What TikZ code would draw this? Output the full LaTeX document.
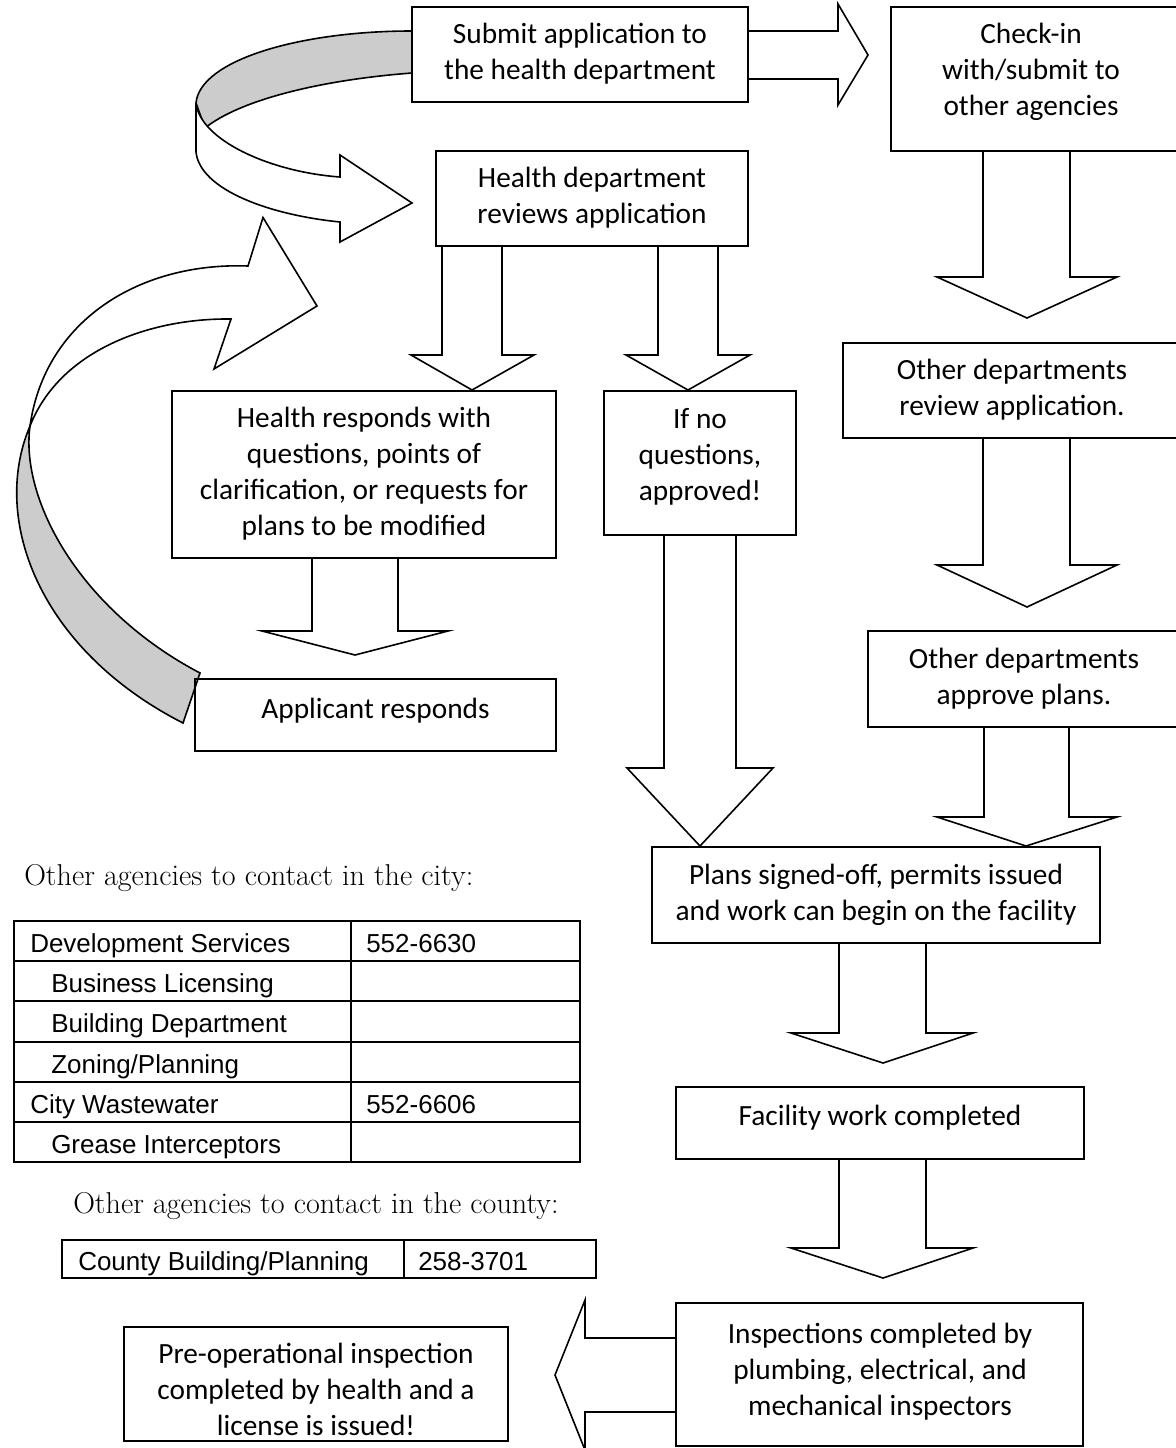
\documentclass[tikz,border=0pt]{standalone}
\usepackage{fontspec}
\newfontfamily\boxfont{Carlito}
\newfontfamily\tabfont{Liberation Sans}
\pgfdeclarelayer{bg}
\pgfsetlayers{bg,main}
\tikzset{
  bx/.style={draw, line width=1.5pt, inner sep=0pt},
  tx/.style={font=\boxfont\fontsize{22}{27}\selectfont, align=center, inner sep=0pt},
  blk/.style={draw, fill=white, line width=1.2pt, line join=miter},
  greyband/.style={draw, fill=gray!40, line width=1.2pt},
  tabline/.style={line width=2.2pt},
  tabtx/.style={font=\tabfont\fontsize{19.5}{23}\selectfont, anchor=base west, inner sep=0pt},
  headtx/.style={font=\rmfamily\fontsize{22.6}{27}\selectfont, anchor=base west, inner sep=0pt},
}
\newcommand\bx[5]{\node[bx, minimum width={(#4-#2)*0.75pt}, minimum height={(#5-#3)*0.75pt}] (#1) at ({(#2+#4)/2},{(#3+#5)/2}) {};}
\newcommand\dnarrow[8]{\filldraw[blk] (#2,0 |- #1.south) -- (#2,#6) -- (#4,#6) -- (#7,#8) -- (#5,#6) -- (#3,#6) -- (#3,0 |- #1.south);}
\begin{document}
\begin{tikzpicture}[x=0.75pt,y=-0.75pt]
\useasboundingbox (0,0) rectangle (1175,1448);
% boxes
\bx{A}{412}{7}{748}{102}
\bx{B}{891}{7}{1185}{151}
\bx{C}{843}{343}{1185}{438}
\bx{D}{868}{631}{1185}{727}
\bx{E}{436}{151}{748}{246}
\bx{F}{172}{391}{556}{558}
\bx{H}{604}{391}{796}{535}
\bx{I}{195}{679}{556}{751}
\bx{G}{652}{847}{1100}{943}
\bx{J}{676}{1087}{1084}{1159}
\bx{K}{676}{1303}{1083}{1446}
\bx{L}{124}{1327}{508}{1441}
% box texts
\node[tx] (At) at (580,54.5) {\strut Submit application to\\\strut the health department};
\node[tx] (Bt) at (1031,72.5) {\strut Check-in\\with/submit to\\\strut other agencies};
\node[tx] (Ct) at (1012,390.5) {\strut Other departments\\\strut review application.};
\node[tx] (Dt) at (1024,679) {\strut Other departments\\\strut approve plans.};
\node[tx] (Et) at (592,198.5) {\strut Health department\\\strut reviews application};
\node[tx] (Ft) at (364,474.5) {\strut Health responds with\\questions, points of\\clarification, or requests for\\\strut plans to be modified};
\node[tx] (Ht) at (700,457) {\strut If no\\questions,\\\strut approved!};
\node[tx] (It) at (375.5,711) {\strut Applicant responds};
\node[tx] (Gt) at (876,895) {\strut Plans signed-off, permits issued\\\strut and work can begin on the facility};
\node[tx] (Jt) at (880,1118) {\strut Facility work completed};
\node[tx] (Kt) at (880,1372) {\strut Inspections completed by\\plumbing, electrical, and\\\strut mechanical inspectors};
\node[tx] (Lt) at (316,1392) {\strut Pre-operational inspection\\completed by health and a\\\strut license is issued!};
% arrows
\begin{pgfonlayer}{bg}
% loop from submit box to review box
\filldraw[greyband] (412,31) .. controls (300,31) and (200,60) .. (196,103) -- (205,128) .. controls (240,100) and (320,80) .. (412,73) -- cycle;
\filldraw[blk] (196,103) .. controls (200,140) and (270,172) .. (340,177) -- (340,155) -- (412,203) -- (340,242) -- (340,222) .. controls (270,215) and (200,190) .. (196,152) -- cycle;
% loop from applicant responds back up
\filldraw[greyband] (30,426) .. controls (-10,520) and (40,650) .. (183,723) -- (200,673) .. controls (80,610) and (20,500) .. (30,426) -- cycle;
\filldraw[blk] (248,266) -- (263,217.5) -- (317,306) -- (214,369) -- (231,319) .. controls (150,318) and (60,350) .. (30,426) .. controls (45,320) and (140,262) .. (248,266) -- cycle;
% right arrow A -> B
\filldraw[blk] (A.east |- 0,31) -- (838,31) -- (838,4) -- (868,55) -- (838,105) -- (838,79) -- (A.east |- 0,79);
% down arrows
\dnarrow{B}{983}{1070}{937}{1117}{277}{1027}{318}
\dnarrow{C}{983}{1070}{937}{1117}{565}{1027}{607}
\dnarrow{D}{984}{1069}{937}{1117}{817}{1026}{846}
\dnarrow{E}{442}{502}{411}{534}{355}{472}{390}
\dnarrow{E}{658}{718}{626}{750}{355}{688}{390}
\dnarrow{H}{664}{736}{627}{773}{768}{700}{846}
\dnarrow{F}{312}{398}{262}{448}{631}{355}{655}
\dnarrow{G}{839}{926}{791}{973}{1033}{883}{1063}
\dnarrow{J}{839}{926}{791}{973}{1248}{883}{1278}
% left arrow K -> L
\filldraw[blk] (K.west |- 0,1338) -- (585,1338) -- (585,1300) -- (555,1375) -- (585,1450) -- (585,1412) -- (K.west |- 0,1412);
\end{pgfonlayer}
% headings
\node[headtx] (h1) at (24,885) {Other agencies to contact in the city:};
\node[headtx] (h2) at (73,1213) {Other agencies to contact in the county:};
% city table
\draw[tabline] (14,921) rectangle (580,1162);
\foreach \yy in {961,1001,1042,1082,1122} \draw[tabline] (14,\yy) -- (580,\yy);
\draw[tabline] (351,921) -- (351,1162);
\node[tabtx] (t1) at (30,952) {Development Services};
\node[tabtx] (p1) at (366,952) {552-6630};
\node[tabtx] (t2) at (51,992) {Business Licensing};
\node[tabtx] (t3) at (51,1032) {Building Department};
\node[tabtx] (t4) at (51,1073) {Zoning/Planning};
\node[tabtx] (t5) at (30,1113) {City Wastewater};
\node[tabtx] (p5) at (366,1113) {552-6606};
\node[tabtx] (t6) at (51,1153) {Grease Interceptors};
% county table
\draw[tabline] (62,1240) rectangle (596,1278);
\draw[tabline] (404,1240) -- (404,1278);
\node[tabtx] (t7) at (78,1270) {County Building/Planning};
\node[tabtx] (p7) at (418,1270) {258-3701};
\end{tikzpicture}
\end{document}
